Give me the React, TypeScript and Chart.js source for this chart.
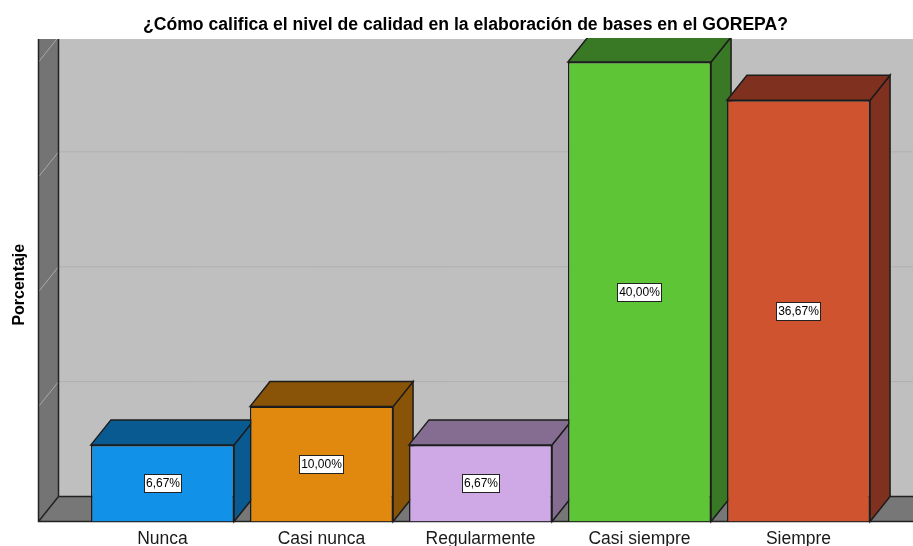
import React, { useEffect, useRef } from "react";
import { Chart, registerables } from "chart.js";

Chart.register(...registerables);

const TITLE = "¿Cómo califica el nivel de calidad en la elaboración de bases en el GOREPA?";
const Y_TITLE = "Porcentaje  ";
const categories = ["Nunca", "Casi nunca", "Regularmente", "Casi siempre", "Siempre"];
const percentages = [6.67, 10.0, 6.67, 40.0, 36.67];
const valueLabels = ["6,67%", "10,00%", "6,67%", "40,00%", "36,67%"];
const frontColors = ["#1192E8", "#E1890E", "#CFA8E6", "#5EC537", "#D05330"];
const faceColors = ["#0A5A92", "#8A5408", "#856C91", "#397824", "#7F301F"];

const DEPTH_X = 20;
const DEPTH_Y = 25;
const EDGE = "#1C1C1C";

function poly(ctx: CanvasRenderingContext2D, pts: number[][], fill: string, stroke?: string, lw = 1) {
  ctx.beginPath();
  pts.forEach((p, i) => (i ? ctx.lineTo(p[0], p[1]) : ctx.moveTo(p[0], p[1])));
  ctx.closePath();
  ctx.fillStyle = fill;
  ctx.fill();
  if (stroke) {
    ctx.strokeStyle = stroke;
    ctx.lineWidth = lw;
    ctx.stroke();
  }
}

const box3d = {
  id: "box3d",
  beforeDatasetsDraw(chart: any) {
    const { ctx, scales, width } = chart;
    const y = scales.y;
    const wallLeft = 38.5;
    const base = y.getPixelForValue(0);
    const top = y.top;
    const backLeft = wallLeft + DEPTH_X;
    const backBase = base - DEPTH_Y;
    ctx.save();
    ctx.fillStyle = "#BFBFBF";
    ctx.fillRect(backLeft, top, width - backLeft, backBase - top);
    for (const t of y.ticks) {
      if (t.value === 0) continue;
      const py = y.getPixelForValue(t.value);
      const by = py - DEPTH_Y;
      if (by > top) {
        ctx.strokeStyle = "#B0B0B0";
        ctx.lineWidth = 1;
        ctx.beginPath();
        ctx.moveTo(backLeft, by);
        ctx.lineTo(width, by);
        ctx.stroke();
      }
    }
    poly(ctx, [[wallLeft, top], [backLeft, top], [backLeft, backBase], [wallLeft, base]], "#747474");
    ctx.save();
    ctx.beginPath();
    ctx.rect(wallLeft, top, DEPTH_X, base - top);
    ctx.clip();
    for (const t of y.ticks) {
      if (t.value === 0) continue;
      const py = y.getPixelForValue(t.value);
      ctx.strokeStyle = "#A8A8A8";
      ctx.lineWidth = 1;
      ctx.beginPath();
      ctx.moveTo(wallLeft, py);
      ctx.lineTo(backLeft, py - DEPTH_Y);
      ctx.stroke();
    }
    ctx.restore();
    poly(ctx, [[wallLeft, base], [backLeft, backBase], [width + 2, backBase], [width + 2, base]], "#777777");
    ctx.strokeStyle = "#222222";
    ctx.lineWidth = 1.5;
    ctx.beginPath();
    ctx.moveTo(wallLeft, top);
    ctx.lineTo(wallLeft, base);
    ctx.lineTo(width, base);
    ctx.moveTo(backLeft, top);
    ctx.lineTo(backLeft, backBase);
    ctx.moveTo(wallLeft, base);
    ctx.lineTo(backLeft, backBase);
    ctx.moveTo(backLeft, backBase);
    ctx.lineTo(width, backBase);
    ctx.stroke();

    ctx.beginPath();
    ctx.rect(0, top - 1, width, chart.height);
    ctx.clip();
    chart.getDatasetMeta(0).data.forEach((bar: any, i: number) => {
      const l = bar.x - bar.width / 2;
      const r = bar.x + bar.width / 2;
      const t = bar.y;
      const b = bar.base;
      poly(ctx, [[r, t], [r + DEPTH_X, t - DEPTH_Y], [r + DEPTH_X, b - DEPTH_Y], [r, b]], faceColors[i], EDGE, 1.5);
      poly(ctx, [[l, t], [l + DEPTH_X, t - DEPTH_Y], [r + DEPTH_X, t - DEPTH_Y], [r, t]], faceColors[i], EDGE, 1.5);
    });
    ctx.restore();
  },
  afterDatasetsDraw(chart: any) {
    const { ctx } = chart;
    ctx.save();
    ctx.font = "12px 'Liberation Sans'";
    ctx.textAlign = "center";
    ctx.textBaseline = "middle";
    chart.getDatasetMeta(0).data.forEach((bar: any, i: number) => {
      const cy = Math.round((bar.y + bar.base) / 2);
      const cx = Math.floor(bar.x - 0.5);
      const w = Math.round(ctx.measureText(valueLabels[i]).width) + 3;
      const h = 18;
      const bx = Math.round(cx - w / 2) + 0.5;
      const by = cy - 8.5;
      ctx.fillStyle = "#FFFFFF";
      ctx.strokeStyle = "#222222";
      ctx.lineWidth = 1;
      ctx.fillRect(bx, by, w, h);
      ctx.strokeRect(bx, by, w, h);
      ctx.fillStyle = "#000000";
      ctx.fillText(valueLabels[i], bx + w / 2, cy + 1);
    });
    ctx.restore();
  },
};

export default function App() {
  const ref = useRef<HTMLCanvasElement>(null);
  useEffect(() => {
    const chart = new Chart(ref.current!, {
      type: "bar",
      plugins: [box3d],
      data: {
        labels: categories,
        datasets: [
          {
            data: percentages,
            backgroundColor: frontColors,
            borderColor: EDGE,
            borderWidth: 1.5,
            barPercentage: 0.9,
            categoryPercentage: 1,
          },
        ],
      },
      options: {
        responsive: false,
        animation: false,
        layout: { padding: { left: 18, right: 0, top: 0, bottom: 0 } },
        plugins: {
          legend: { display: false },
          tooltip: { enabled: false },
          title: {
            display: true,
            text: TITLE,
            color: "#000000",
            font: { family: "'Liberation Sans'", size: 17.6, weight: "bold", lineHeight: 1.2 },
            padding: { top: 14.4, bottom: 3.5 },
          },
        },
        scales: {
          x: {
            grid: { display: false, drawTicks: false },
            border: { display: false },
            ticks: {
              color: "#1a1a1a",
              font: { family: "'Liberation Sans'", size: 17.5 },
              padding: 7,
              maxRotation: 0,
              autoSkip: false,
            },
            afterFit: (s: any) => {
              s.height = 24.5;
            },
          },
          y: {
            min: 0,
            max: 42,
            grid: { display: false, drawTicks: false },
            border: { display: false },
            ticks: { display: false, stepSize: 10 },
            title: {
              display: true,
              text: Y_TITLE,
              color: "#000000",
              font: { family: "'Liberation Sans'", size: 16, weight: "bold", lineHeight: 1.2 },
              padding: { top: -8, bottom: 0 },
            },
            afterFit: (s: any) => {
              s.width = 65;
            },
          },
          y2: {
            position: "right",
            min: 0,
            max: 42,
            grid: { display: false, drawTicks: false },
            border: { display: false },
            ticks: { display: false },
            afterFit: (s: any) => {
              s.width = 35;
            },
          },
        },
      } as any,
    });
    return () => chart.destroy();
  }, []);
  return (
    <div style={{ position: "fixed", left: 0, top: 0, width: 913, height: 546, overflow: "hidden", background: "#fff" }}>
      <canvas ref={ref} width={913} height={546} style={{ display: "block" }} />
    </div>
  );
}
